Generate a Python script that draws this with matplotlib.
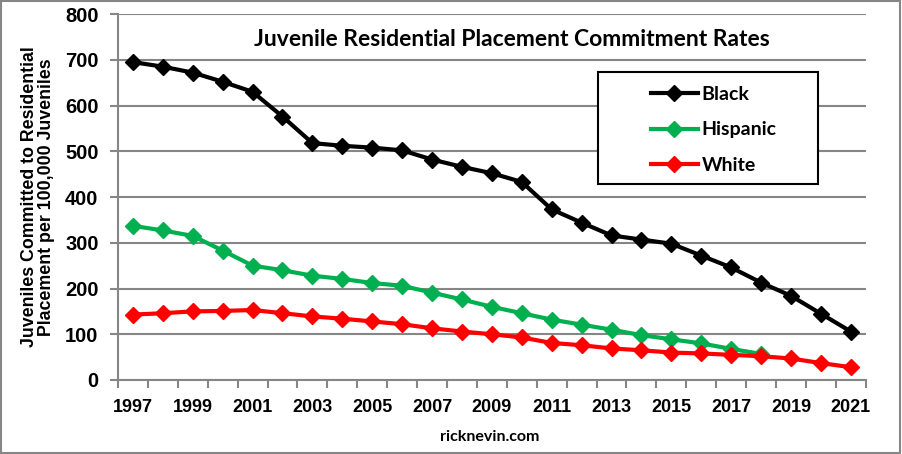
import matplotlib.pyplot as plt
from matplotlib.patches import Rectangle

years = list(range(1997, 2022))
black = [695, 685, 672, 652, 630, 576, 518, 512, 508, 502, 482, 466, 452, 433,
         373, 344, 316, 307, 298, 272, 246, 213, 184, 145, 106]
hispanic = [337, 327, 315, 283, 250, 240, 228, 221, 212, 206, 191, 176, 160, 146,
            132, 121, 110, 98, 89, 80, 68, 57]
white = [143, 146, 150, 151, 153, 146, 139, 134, 128, 122, 113, 106, 100, 93,
         81, 76, 69, 65, 60, 58, 55, 52, 47, 37, 28]
tick_labels = [str(y) for y in years[::2]]

fig = plt.figure(figsize=(9.02, 4.54), dpi=100)
ax = fig.add_axes([0.1308, 0.163, 0.829, 0.806])

x = list(range(len(years)))
ax.plot(x, black, color='black', lw=3, marker='D', ms=8.5, label='Black')
ax.plot(x[:len(hispanic)], hispanic, color='#00b050', lw=3, marker='D', ms=8.5, label='Hispanic')
ax.plot(x, white, color='#ff0000', lw=3, marker='D', ms=8.5, label='White')

ax.set_xlim(-0.5, len(years) - 0.5)
ax.set_ylim(0, 800)
ax.set_yticks(range(0, 801, 100))
ax.yaxis.grid(True, color='#868686', lw=1.5)
ax.set_axisbelow(True)
for s in ['top', 'right']:
    ax.spines[s].set_visible(False)
for s in ['left', 'bottom']:
    ax.spines[s].set_color('#868686')
    ax.spines[s].set_linewidth(1.5)

# category axis: ticks between categories, labels every other year
ax.set_xticks([i - 0.5 for i in range(len(years) + 1)])
ax.set_xticklabels([])
ax.set_xticks(x[::2], minor=True)
ax.set_xticklabels(tick_labels, minor=True, fontsize=13, fontweight='bold',
                   family='Liberation Sans')
ax.tick_params(axis='x', which='major', length=6, color='#868686', width=1.5)
ax.tick_params(axis='x', which='minor', length=0, pad=14)
ax.tick_params(axis='y', length=6, color='#868686', width=1.5, labelsize=14.5, pad=8)
for t in ax.get_yticklabels():
    t.set_fontweight('bold')
    t.set_family('Liberation Sans')

ax.set_ylabel('Juveniles Committed to Residential\nPlacement per 100,000 Juveniles',
              fontsize=12.8, fontweight='bold', family='Liberation Sans', labelpad=7,
              linespacing=1.05)

fig.text(0.567, 0.912, 'Juvenile Residential Placement Commitment Rates', ha='center',
         va='center', fontsize=16.5, fontweight='bold', family='Lato')
fig.text(0.543, 0.037, 'ricknevin.com', ha='center', va='center', fontsize=11.5,
         fontweight='bold', family='Lato')

# legend: frameless entries inside a hand-drawn box
leg = ax.legend(loc='upper left', bbox_to_anchor=(0.7, 0.83), frameon=False,
                handlelength=2.4, borderpad=0.0, labelspacing=0.95, handletextpad=0.2,
                prop={'family': 'Lato', 'weight': 'bold', 'size': 14})
leg.set_zorder(6)
ax.add_patch(Rectangle((0.642, 0.5355), 0.294, 0.306, transform=ax.transAxes,
                       facecolor='white', edgecolor='black', lw=1.5, zorder=5))

fig.patches.append(Rectangle((0.001, 0.002), 0.997, 0.995, transform=fig.transFigure,
                             fill=False, edgecolor='#868686', lw=1.5))

fig.savefig('out.png', dpi=100)
